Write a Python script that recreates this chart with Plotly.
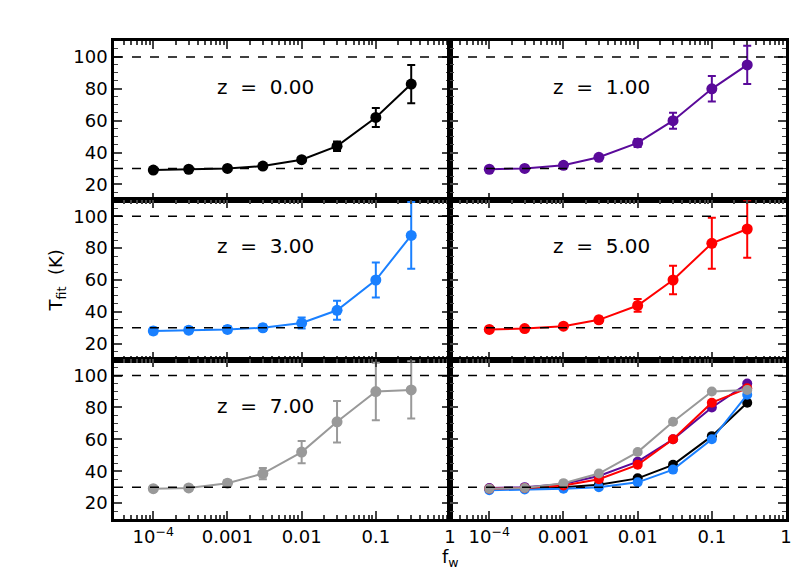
import plotly.graph_objects as go
from plotly.subplots import make_subplots

fw = [1e-4, 3e-4, 1e-3, 3e-3, 0.01, 0.03, 0.1, 0.3]
z_labels = ["z  =  0.00", "z  =  1.00", "z  =  3.00", "z  =  5.00", "z  =  7.00"]
colors = ["#000000", "#5a0a9a", "#1a80ff", "#ff0000", "#999999"]
T = [
    [29, 29.5, 30, 31.5, 35.5, 44, 62, 83],
    [29.5, 30, 32, 37, 46, 60, 80, 95],
    [28, 28.5, 29, 30, 33, 41, 60, 88],
    [29, 29.5, 31, 35, 44, 60, 83, 92],
    [29, 29.5, 32.5, 38.5, 52, 71, 90, 91],
]
E = [
    [0.5, 0.5, 0.8, 1, 1.5, 3, 6, 12],
    [0.5, 0.5, 1, 1, 2.5, 5, 8, 12],
    [2, 2, 2, 2, 3.5, 6, 11, 21],
    [1, 1, 1, 2, 4, 9, 16, 18],
    [1, 1.5, 2, 3.5, 7, 13, 18, 18],
]

fig = make_subplots(rows=3, cols=2, horizontal_spacing=0, vertical_spacing=0)
pos = [(1, 1), (1, 2), (2, 1), (2, 2), (3, 1)]
for i, (r, c) in enumerate(pos):
    fig.add_trace(go.Scatter(x=fw, y=T[i], mode="lines+markers",
        line=dict(color=colors[i], width=2), marker=dict(size=11, color=colors[i]),
        error_y=dict(type="data", array=E[i], color=colors[i], thickness=2, width=4),
        showlegend=False), row=r, col=c)
    fig.add_annotation(text=z_labels[i], x=0.45, y=0.8, xref="x domain" if i == 0 else f"x{i+1} domain",
        yref="y domain" if i == 0 else f"y{i+1} domain", showarrow=False,
        font=dict(size=20, color="black", family="DejaVu Sans"))
for i in [0, 2, 1, 3, 4]:
    fig.add_trace(go.Scatter(x=fw, y=T[i], mode="lines+markers",
        line=dict(color=colors[i], width=2), marker=dict(size=10, color=colors[i]),
        showlegend=False), row=3, col=2)

for r in range(1, 4):
    for c in range(1, 3):
        for yv in (30, 100):
            fig.add_hline(y=yv, line=dict(color="black", width=1.5, dash="dash"), row=r, col=c)
        fig.update_xaxes(type="log", range=[-4.53, 0], row=r, col=c,
            tickvals=[1e-4, 1e-3, 1e-2, 0.1, 1],
            ticktext=["10<sup>−4</sup>", "0.001", "0.01", "0.1", "1"],
            showticklabels=(r == 3), ticks="inside", ticklen=8, tickwidth=2, mirror="allticks",
            showline=True, linewidth=2.5, linecolor="black", showgrid=False, zeroline=False,
            minor=dict(ticks="inside", ticklen=4, tickwidth=1.5, dtick="D1"),
            tickfont=dict(size=18, color="black", family="DejaVu Sans"))
        fig.update_yaxes(range=[10, 110], tickvals=[20, 40, 60, 80, 100], showticklabels=(c == 1),
            ticks="inside", ticklen=8, tickwidth=2, mirror="allticks",
            showline=True, linewidth=2.5, linecolor="black", showgrid=False, zeroline=False,
            minor=dict(ticks="inside", ticklen=4, tickwidth=1, dtick=5),
            tickfont=dict(size=18, color="black", family="DejaVu Sans"), row=r, col=c)

fig.add_annotation(text="T<sub>fit</sub>  (K)", x=-0.105, y=0.5, xref="paper", yref="paper",
    textangle=-90, showarrow=False, font=dict(size=18, color="black", family="DejaVu Sans"))
fig.add_annotation(text="f<sub>w</sub>", x=0.5, y=-0.11, xref="paper", yref="paper",
    showarrow=False, font=dict(size=18, color="black", family="DejaVu Sans"))
fig.update_layout(width=810, height=578, margin=dict(l=106, r=32, t=33, b=67),
    plot_bgcolor="white", paper_bgcolor="white")
fig.write_html("out.html")
